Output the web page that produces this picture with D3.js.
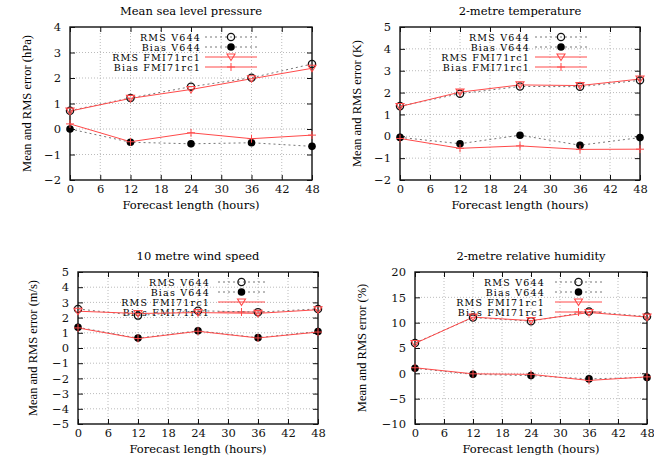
<!DOCTYPE html>
<html>
<head>
<meta charset="utf-8">
<script src="https://cdn.jsdelivr.net/npm/d3@7"></script>
<style>
  body { margin: 0; background: #fff; }
  svg { font-family: "DejaVu Serif", "Liberation Serif", serif; }
</style>
</head>
<body>
<script>
// Forecast lengths and x ticks shared by all four panels
const hours = [0, 12, 24, 36, 48];
const xTicks = [0, 6, 12, 18, 24, 30, 36, 42, 48];

// Mean sea level pressure (hPa)
const mslpRmsV644 = [0.72, 1.22, 1.66, 2.01, 2.55];
const mslpBiasV644 = [0.0, -0.52, -0.58, -0.54, -0.68];
const mslpRmsFmi = [0.7, 1.2, 1.55, 1.97, 2.38];
const mslpBiasFmi = [0.2, -0.5, -0.15, -0.38, -0.24];
const mslpTicks = [-2, -1, 0, 1, 2, 3, 4];

// 2-metre temperature (K)
const t2mRmsV644 = [1.38, 1.95, 2.28, 2.27, 2.56];
const t2mBiasV644 = [-0.05, -0.34, 0.05, -0.41, -0.06];
const t2mRmsFmi = [1.36, 2.02, 2.35, 2.32, 2.62];
const t2mBiasFmi = [-0.1, -0.55, -0.44, -0.6, -0.59];
const t2mTicks = [-2, -1, 0, 1, 2, 3, 4, 5];

// 10 metre wind speed (m/s)
const windRmsV644 = [2.57, 2.13, 2.45, 2.36, 2.57];
const windBiasV644 = [1.36, 0.65, 1.13, 0.68, 1.08];
const windRmsFmi = [2.42, 2.27, 2.33, 2.28, 2.52];
const windBiasFmi = [1.32, 0.62, 1.1, 0.66, 1.05];
const windTicks = [-5, -4, -3, -2, -1, 0, 1, 2, 3, 4, 5];

// 2-metre relative humidity (%)
const rhRmsV644 = [6.0, 11.0, 10.3, 12.2, 11.2];
const rhBiasV644 = [1.0, -0.2, -0.45, -1.1, -0.8];
const rhRmsFmi = [5.9, 11.1, 10.4, 12.0, 11.1];
const rhBiasFmi = [1.1, -0.1, -0.2, -1.4, -0.7];
const rhTicks = [-10, -5, 0, 5, 10, 15, 20];

const legendNames = ["RMS V644", "Bias V644", "RMS FMI71rc1", "Bias FMI71rc1"];

const w = 654;
const h = 459;
const red = "#ff4a4a";

const svg = d3.select("body").append("svg").attr("width", w).attr("height", h);

const panels = [
  { title: "Mean sea level pressure", unit: "Mean and RMS error (hPa)",
    series: [mslpRmsV644, mslpBiasV644, mslpRmsFmi, mslpBiasFmi], yTicks: mslpTicks,
    left: 70, right: 312, top: 27, bottom: 180, titleY: 15, labelX: 31,
    legText: 201, legX1: 205, legX2: 257, legY: 37 },
  { title: "2-metre temperature", unit: "Mean and RMS error (K)",
    series: [t2mRmsV644, t2mBiasV644, t2mRmsFmi, t2mBiasFmi], yTicks: t2mTicks,
    left: 400, right: 640, top: 27, bottom: 180, titleY: 15, labelX: 361,
    legText: 530, legX1: 535, legX2: 587, legY: 37 },
  { title: "10 metre wind speed", unit: "Mean and RMS error (m/s)",
    series: [windRmsV644, windBiasV644, windRmsFmi, windBiasFmi], yTicks: windTicks,
    left: 78, right: 318, top: 272, bottom: 424, titleY: 260, labelX: 37,
    legText: 210, legX1: 218, legX2: 265, legY: 282 },
  { title: "2-metre relative humidity", unit: "Mean and RMS error (%)",
    series: [rhRmsV644, rhBiasV644, rhRmsFmi, rhBiasFmi], yTicks: rhTicks,
    left: 415, right: 647, top: 272, bottom: 424, titleY: 260, labelX: 366,
    legText: 545, legX1: 555, legX2: 602, legY: 282 },
];

// marker drawing for each series: open circle, filled circle, down triangle, plus
function marker(g, type, x, y) {
  if (type === 0) {
    g.append("circle").attr("cx", x).attr("cy", y).attr("r", 3.6)
      .attr("fill", "none").attr("stroke", "#111").attr("stroke-width", 1.3);
  } else if (type === 1) {
    g.append("circle").attr("cx", x).attr("cy", y).attr("r", 3.8).attr("fill", "#000");
  } else if (type === 2) {
    g.append("path").attr("d", `M${x - 4},${y - 3}L${x + 4},${y - 3}L${x},${y + 3.5}Z`)
      .attr("fill", "none").attr("stroke", red).attr("stroke-width", 1.1);
  } else {
    g.append("path").attr("d", `M${x - 4},${y}H${x + 4}M${x},${y - 4}V${y + 4}`)
      .attr("stroke", red).attr("stroke-width", 1);
  }
}

const lineStyle = [
  { stroke: "#666", dash: "2,3", width: 0.9 },
  { stroke: "#666", dash: "2,3", width: 0.9 },
  { stroke: red, dash: null, width: 1 },
  { stroke: red, dash: null, width: 1 },
];

panels.forEach((p) => {
  const g = svg.append("g");
  const x = d3.scaleLinear().domain([0, 48]).range([p.left, p.right]);
  const y = d3.scaleLinear().domain(d3.extent(p.yTicks)).range([p.bottom, p.top]);

  // grid
  g.append("g").selectAll("line").data(xTicks.slice(1, -1)).join("line")
    .attr("x1", (d) => x(d)).attr("x2", (d) => x(d))
    .attr("y1", p.top).attr("y2", p.bottom)
    .attr("stroke", "#aaa").attr("stroke-width", 0.8).attr("stroke-dasharray", "1,2");
  g.append("g").selectAll("line").data(p.yTicks.slice(1, -1)).join("line")
    .attr("y1", (d) => y(d)).attr("y2", (d) => y(d))
    .attr("x1", p.left).attr("x2", p.right)
    .attr("stroke", "#aaa").attr("stroke-width", 0.8).attr("stroke-dasharray", "1,2");

  // axes with inward ticks on all sides
  const font = (sel) => sel.call((s) => s.select(".domain").remove())
    .attr("font-family", null).attr("font-size", 11.5)
    .call((s) => s.selectAll("text").attr("fill", "#111"));
  g.append("g").attr("transform", `translate(0,${p.bottom})`)
    .call(d3.axisBottom(x).tickValues(xTicks).tickSize(-5).tickPadding(5).tickFormat(d3.format("d")))
    .call(font);
  g.append("g").attr("transform", `translate(0,${p.top})`)
    .call(d3.axisTop(x).tickValues(xTicks).tickSize(-5).tickFormat(""))
    .call(font);
  g.append("g").attr("transform", `translate(${p.left},0)`)
    .call(d3.axisLeft(y).tickValues(p.yTicks).tickSize(-5).tickPadding(9).tickFormat(d3.format("d")))
    .call(font);
  g.append("g").attr("transform", `translate(${p.right},0)`)
    .call(d3.axisRight(y).tickValues(p.yTicks).tickSize(-5).tickFormat(""))
    .call(font);
  g.selectAll(".tick line").attr("stroke", "#111").attr("stroke-width", 1);

  g.append("rect").attr("x", p.left).attr("y", p.top)
    .attr("width", p.right - p.left).attr("height", p.bottom - p.top)
    .attr("fill", "none").attr("stroke", "#111").attr("stroke-width", 1.4);

  // titles
  g.append("text").attr("x", (p.left + p.right) / 2).attr("y", p.titleY)
    .attr("text-anchor", "middle").attr("font-size", 11.5).text(p.title);
  g.append("text").attr("x", (p.left + p.right) / 2).attr("y", p.bottom + 29)
    .attr("text-anchor", "middle").attr("font-size", 11.5).text("Forecast length (hours)");
  g.append("text")
    .attr("transform", `translate(${p.labelX},${(p.top + p.bottom) / 2}) rotate(-90)`)
    .attr("text-anchor", "middle").attr("font-size", 12.5)
    .attr("font-family", "Liberation Serif").text(p.unit);

  // legend
  legendNames.forEach((name, i) => {
    const ly = p.legY + i * 10;
    g.append("text").attr("x", p.legText).attr("y", ly + 3.5)
      .attr("text-anchor", "end").attr("font-size", 9.5)
      .attr("letter-spacing", 1.2).text(name);
    const st = lineStyle[i];
    g.append("line").attr("x1", p.legX1).attr("x2", p.legX2).attr("y1", ly).attr("y2", ly)
      .attr("stroke", st.stroke).attr("stroke-width", st.width)
      .attr("stroke-dasharray", st.dash);
    marker(g, i, (p.legX1 + p.legX2) / 2, ly);
  });

  // series
  const line = d3.line().x((d, i) => x(hours[i])).y((d) => y(d));
  p.series.forEach((vals, i) => {
    const st = lineStyle[i];
    g.append("path").attr("d", line(vals)).attr("fill", "none")
      .attr("stroke", st.stroke).attr("stroke-width", st.width)
      .attr("stroke-dasharray", st.dash);
  });
  p.series.forEach((vals, i) => {
    vals.forEach((v, j) => marker(g, i, x(hours[j]), y(v)));
  });
});
</script>
</body>
</html>
